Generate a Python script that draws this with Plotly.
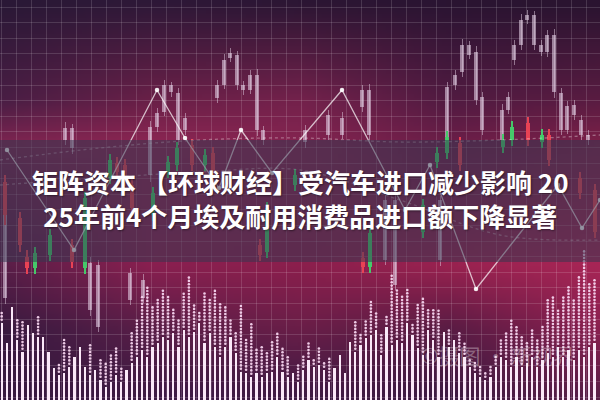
import base64, struct, zlib
import numpy as np
import plotly.graph_objects as go

# ---------------- data ----------------
# volume columns (solid part height and dotted extension top), left to right
vol_solid = [77,57,93,60,48,75,67,63,63,48,32,25,27,33,43,53,33,25,30,20,13,18,25,18,30,37,43,50,43,53,
             57,63,60,67,53,70,63,68,77,57,67,53,43,53,63,47,28,27,23,27,23,27,28,43,28,23,27,
             18,30,40,33,35,30,18,32,45,27,58,48,55,62,65,70,45,73,55,60,57,77,65,52,45,70,60,43,68,
             53,60,47,43,33,27,23,20,23,33,43,40,33,43,33,37,43,33,40,47,43,53,43,50,40,50,43,53,57]
vol_dots = [90,57,93,80,80,75,67,83,63,48,32,38,63,53,43,53,33,57,30,40,37,47,52,32,30,67,80,103,113,93,
            100,110,103,93,80,107,123,97,90,107,100,112,97,93,80,70,95,60,77,50,53,48,60,67,53,43,27,
            35,45,58,42,52,38,42,32,48,27,58,78,67,80,98,88,67,83,125,110,105,110,78,97,103,90,90,90,68,
            70,63,70,57,40,37,33,27,33,43,60,67,80,73,63,57,70,60,73,100,103,90,103,113,100,123,150,117,120]

# faded (grey) candles
grey_x = [5,65,72,90,98,130,143,150,157,164,171,178,185,217,224,230,237,243,250,257,263,305,328,342,362,369,
          385,395,440,447,455,462,469,476,482,502,508,514,521,527,534,541,547,554,561,567,574,581,588]
grey_open = [102,260,252,90,73,100,102,225,273,288,308,260,270,302,315,342,315,310,310,270,260,258,265,265,293,265,
             140,115,140,260,315,328,345,300,270,260,290,340,355,380,355,348,348,308,270,270,285,265,260]
grey_close = [200,272,272,137,135,127,120,273,287,315,315,307,282,315,340,347,345,315,325,325,270,270,285,282,310,310,
              200,200,200,313,325,355,355,348,303,290,303,355,380,385,385,355,365,365,307,294,295,280,265]
grey_high = [206,278,276,143,140,132,126,279,292,320,318,312,287,320,346,352,349,319,330,331,274,275,290,288,315,316,
             205,206,204,318,330,361,359,354,308,296,308,360,386,390,389,360,370,371,312,299,300,285,270]
grey_low = [96,255,246,84,68,95,97,218,268,284,303,255,265,297,311,338,310,305,306,264,255,252,260,261,288,259,
            135,110,134,255,310,323,341,295,265,254,286,335,350,376,350,344,343,302,265,266,280,260,255]

# coloured candles
col_x = [5,20,27,35,50,72,85,110,117,125,132,153,168,177,192,205,213,260,267,295,363,370,423,437,447,460,503,512,528,542,549,580,595]
col_open = [185,155,132,147,165,138,202,240,228,220,192,207,238,252,235,245,222,145,192,225,133,167,195,247,263,235,260,273,260,265,240,207,168]
col_close = [218,182,143,132,145,155,132,222,237,235,215,185,228,235,255,235,247,155,148,215,142,133,168,238,247,257,253,260,277,258,265,222,210]
col_high = [225,188,150,153,171,161,208,246,243,241,221,213,244,258,261,251,253,161,198,231,148,173,201,253,269,263,266,279,283,271,271,228,216]
col_low = [175,148,126,126,139,132,126,216,222,214,186,179,222,229,229,229,216,139,142,209,127,127,162,232,241,229,247,254,254,252,234,201,162]

# zig-zag indicator line
zig_x = [7,74,157,185,219,241,272,342,405,430,476,558,582,600]
zig_y = [250,150,310,262,212,270,227,310,190,235,111,215,172,200]

# dotted moving-average style curves
ma1_x = [0,100,200,300,400,500,600]
ma1_y = [240,252,260,262,258,260,265]
ma2_x = [0,100,200,300,400,500,600]
ma2_y = [215,222,228,230,200,165,160]

title_lines = ["钜阵资本 【环球财经】受汽车进口减少影响 20", "25年前4个月埃及耐用消费品进口额下降显著"]
watermark = "©摄图 · 新视界"

# ---------------- background gradient ----------------
bg_y = [0, 100, 140, 265, 330, 400]
bg_x = [0, 150, 300, 450, 600]
bg_hex = [
    ["#2a1836", "#2e1838", "#2c1634", "#2a1432", "#2a1430"],
    ["#4a1e45", "#6a2048", "#74224c", "#521b42", "#5a1c42"],
    ["#7a2550", "#8a2552", "#842450", "#6a1e48", "#7a2048"],
    ["#5a1e48", "#8a2050", "#8c1f4d", "#9a2250", "#a82656"],
    ["#3a1a40", "#5a1e48", "#6a1e48", "#5a1c44", "#8a2050"],
    ["#38193f", "#3e1a44", "#3e1a44", "#3e1a42", "#5a1e48"],
]
W, H = 150, 100
xs = np.linspace(0, 600, W)
ys = np.linspace(0, 400, H)
anc = np.array([[[int(h[i:i + 2], 16) for i in (1, 3, 5)] for h in row] for row in bg_hex], float)
rows = np.stack([np.stack([np.interp(xs, bg_x, anc[r, :, c]) for c in range(3)], -1) for r in range(len(bg_y))])
img = np.stack([np.stack([np.interp(ys, bg_y, rows[:, j, c]) for c in range(3)], -1) for j in range(W)], 1)
img = np.clip(img, 0, 255).astype(np.uint8)


def to_png(a):
    h, w, _ = a.shape
    raw = b"".join(b"\x00" + a[i].tobytes() for i in range(h))

    def chunk(t, d):
        return struct.pack(">I", len(d)) + t + d + struct.pack(">I", zlib.crc32(t + d) & 0xffffffff)

    return (b"\x89PNG\r\n\x1a\n" + chunk(b"IHDR", struct.pack(">IIBBBBB", w, h, 8, 2, 0, 0, 0))
            + chunk(b"IDAT", zlib.compress(raw, 9)) + chunk(b"IEND", b""))


bg_src = "data:image/png;base64," + base64.b64encode(to_png(img)).decode()

# ---------------- figure ----------------
fig = go.Figure()

# volume bars
vol_x = [1.7 + 5.2 * i for i in range(len(vol_solid))]
fig.add_trace(go.Bar(x=vol_x, y=vol_solid, width=2.3, marker=dict(color="rgba(250,232,248,1)", line=dict(width=0)),
                     hoverinfo="skip"))
dx, dy = [], []
for xv, s, d in zip(vol_x, vol_solid, vol_dots):
    for v in np.arange(s + 3.3, d + 0.1, 3.3):
        dx.append(xv)
        dy.append(v)
fig.add_trace(go.Scatter(x=dx, y=dy, mode="markers", marker=dict(size=2.6, color="rgba(245,212,238,0.95)"),
                         hoverinfo="skip"))

# grey candles
fig.add_trace(go.Bar(x=grey_x, base=grey_low, y=[h - l for h, l in zip(grey_high, grey_low)], width=1.0,
                     marker=dict(color="rgba(225,205,225,0.5)", line=dict(width=0)), hoverinfo="skip"))
fig.add_trace(go.Bar(x=grey_x, base=[min(o, c) for o, c in zip(grey_open, grey_close)],
                     y=[abs(c - o) for o, c in zip(grey_open, grey_close)], width=4.6,
                     marker=dict(color="rgba(228,208,230,0.58)", line=dict(width=0)), hoverinfo="skip"))

# coloured candles
col_colors = ["rgba(232,66,84,1)" if c > o else "rgba(70,200,106,1)" for o, c in zip(col_open, col_close)]
fig.add_trace(go.Bar(x=col_x, base=col_low, y=[h - l for h, l in zip(col_high, col_low)], width=1.0,
                     marker=dict(color=col_colors, line=dict(width=0)), hoverinfo="skip"))
fig.add_trace(go.Bar(x=col_x, base=[min(o, c) for o, c in zip(col_open, col_close)],
                     y=[abs(c - o) for o, c in zip(col_open, col_close)], width=4.6,
                     marker=dict(color=col_colors, line=dict(width=0)), hoverinfo="skip"))

# dotted curves
for mx, my in ((ma1_x, ma1_y), (ma2_x, ma2_y)):
    fig.add_trace(go.Scatter(x=mx, y=my, mode="lines", line=dict(color="rgba(255,255,255,0.32)", width=1.3,
                                                                  dash="dot", shape="spline"), hoverinfo="skip"))

# zig-zag
fig.add_trace(go.Scatter(x=zig_x, y=zig_y, mode="lines+markers",
                         line=dict(color="rgba(255,255,255,0.7)", width=1.3),
                         marker=dict(size=4.5, color="rgba(255,255,255,0.9)"), hoverinfo="skip"))

fig.update_layout(
    width=600, height=400, margin=dict(l=0, r=0, t=0, b=0),
    paper_bgcolor="#2a1836", plot_bgcolor="rgba(0,0,0,0)",
    barmode="overlay", showlegend=False, bargap=0,
    xaxis=dict(range=[0, 600], showticklabels=False, zeroline=False, showline=False,
               showgrid=True, gridcolor="rgba(255,255,255,0.14)", gridwidth=1, tick0=1.7, dtick=15, fixedrange=True),
    yaxis=dict(range=[0, 400], showticklabels=False, zeroline=False, showline=False,
               showgrid=True, gridcolor="rgba(255,255,255,0.14)", gridwidth=1, tick0=2.9, dtick=15.6, fixedrange=True),
    images=[dict(source=bg_src, xref="paper", yref="paper", x=0, y=1, sizex=1, sizey=1,
                 sizing="stretch", xanchor="left", yanchor="top", layer="below")],
    shapes=[dict(type="rect", xref="paper", yref="y", x0=0, x1=1, y0=138, y1=260,
                 fillcolor="rgba(52,56,80,0.52)", line=dict(width=0), layer="above")],
    annotations=[
        dict(text="<br>".join("<b>" + t + "</b>" for t in title_lines), x=300, y=400 - 198, xref="x", yref="y",
             showarrow=False, xanchor="center", yanchor="middle", align="center",
             font=dict(family="Noto Sans CJK SC", size=26, color="white", shadow="1px 1px 2px rgba(0,0,0,0.45)")),
        dict(text=watermark, x=497, y=400 - 355, xref="x", yref="y", showarrow=False,
             xanchor="center", yanchor="middle",
             font=dict(family="Noto Sans CJK SC", size=21, color="rgba(255,255,255,0.32)")),
    ],
)

fig.write_html("out.html", config={"displayModeBar": False},
               post_script="document.body.style.margin='0';document.body.style.overflow='hidden';")
